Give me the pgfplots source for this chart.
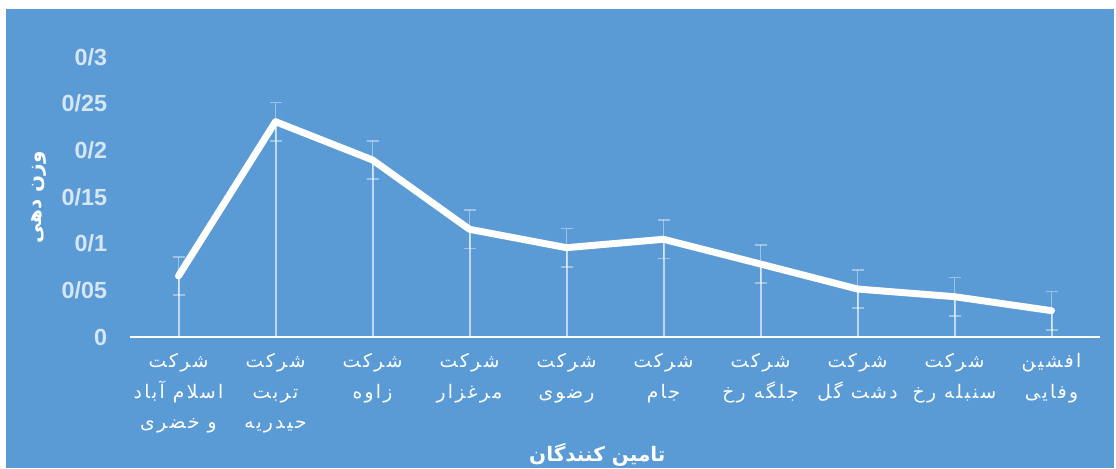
\documentclass[border=0pt]{standalone}
\usepackage{fontspec}
\usepackage{pgfplots}
\usepackage{pgfplotstable}
\pgfplotsset{compat=1.18}
\setmainfont{Liberation Sans}
\newfontfamily\fa[Script=Arabic]{DejaVu Sans}
\newfontfamily\faL[Script=Arabic,LetterSpace=12]{DejaVu Sans}
\TeXXeTstate=1
\definecolor{bg}{HTML}{5B9BD5}
\definecolor{ticklab}{RGB}{214,230,245}

\pgfplotstableread{
x y
0 0.0654
1 0.2307
2 0.1897
3 0.1154
4 0.0957
5 0.1047
6 0.0782
7 0.0514
8 0.0432
9 0.0282
}\weights

\begin{document}
\begin{tikzpicture}
\useasboundingbox (0,0) rectangle (837pt,351pt);
\fill[white] (0,0) rectangle (837pt,351pt);
\fill[bg] (4.5pt,0) rectangle (835.5pt,344.25pt);
\begin{axis}[
  at={(97.5pt,98.25pt)}, anchor=south west,
  scale only axis, width=727.5pt, height=210pt,
  xmin=-0.5, xmax=9.5, ymin=0, ymax=0.3,
  clip=false,
  axis x line*=bottom, axis y line*=left,
  x axis line style={white, line width=1.6pt, -},
  y axis line style={draw=none},
  xtick={0,...,9}, major tick length=0pt,
  ytick={0,0.05,0.1,0.15,0.2,0.25,0.3},
  yticklabels={0,0/05,0/1,0/15,0/2,0/25,0/3},
  yticklabel style={font=\fontsize{17.5}{20}\selectfont\bfseries, text=ticklab, anchor=east, inner sep=0pt, xshift=-17pt},
  xticklabels={
    {\beginR شرکت\endR\\\beginR اسلام آباد\endR\\\beginR و خضری\endR},
    {\beginR شرکت\endR\\\beginR تربت\endR\\\beginR حیدریه\endR},
    {\beginR شرکت\endR\\\beginR زاوه\endR},
    {\beginR شرکت\endR\\\beginR مرغزار\endR},
    {\beginR شرکت\endR\\\beginR رضوی\endR},
    {\beginR شرکت\endR\\\beginR جام\endR},
    {\beginR شرکت\endR\\\beginR جلگه رخ\endR},
    {\beginR شرکت\endR\\\beginR دشت گل\endR},
    {\beginR شرکت\endR\\\beginR سنبله رخ\endR},
    {\beginR افشین\endR\\\beginR وفایی\endR}},
  xticklabel style={font=\faL\fontsize{14}{23}\selectfont, text=white, align=center, anchor=north, inner sep=0pt, yshift=-12pt},
  tick style={draw=none},
]
\addplot[ycomb, white, opacity=0.6, line width=1.5pt, forget plot] table[x=x,y=y]{\weights};
\addplot[draw=none, forget plot,
  error bars/.cd, y dir=both, y fixed=0.0205,
  error bar style={white, opacity=0.4, line width=1.1pt},
  error mark options={rotate=90, mark size=4.5pt, white, opacity=0.4, line width=1.1pt}]
  table[x=x,y=y]{\weights};
\addplot[white, line width=5.2pt, line cap=round, line join=round] table[x=x,y=y]{\weights};
\end{axis}
\node[text=white, rotate=90, font=\fa\bfseries\fontsize{15}{18}\selectfont] at (29pt,203pt) {\beginR وزن دهی\endR};
\node[text=white, font=\fa\bfseries\fontsize{15}{18}\selectfont] at (448pt,9.75pt) {\beginR تامین کنندگان\endR};
\end{tikzpicture}
\end{document}
